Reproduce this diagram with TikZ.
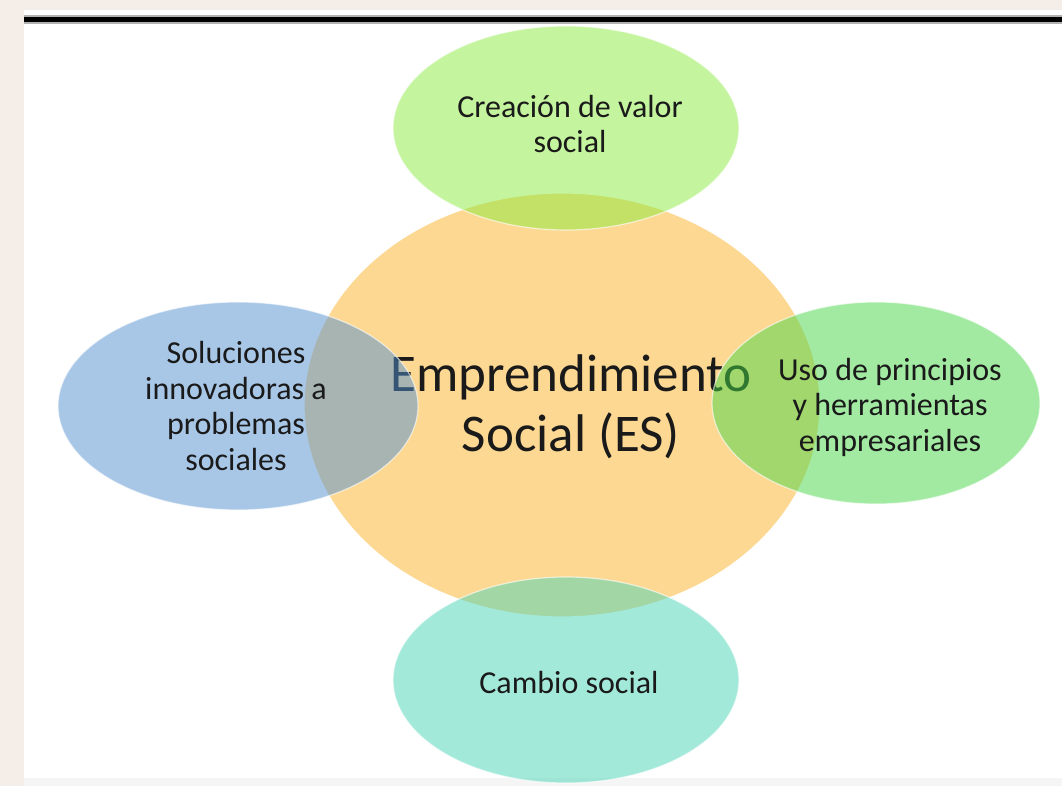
\documentclass[tikz,border=0pt]{standalone}
\usepackage{fontspec}
\setmainfont{Carlito}
\usetikzlibrary{shapes.geometric}
\definecolor{bgbeige}{HTML}{F5EDE8}
\definecolor{orangeES}{HTML}{FCD892}
\definecolor{greenTop}{RGB}{139,235,61}
\definecolor{blueLeft}{RGB}{83,145,209}
\definecolor{greenRight}{RGB}{71,215,71}
\definecolor{tealBottom}{RGB}{73,213,183}
\definecolor{txt}{HTML}{1A1A1A}
\begin{document}
\begin{tikzpicture}[x=1pt,y=-1pt,
  bubble/.style={ellipse, inner sep=0pt, draw=white, line width=1.2pt, fill opacity=0.5, draw opacity=0.6},
  smalltext/.style={align=center, text=txt, font=\fontsize{32}{35.5}\selectfont, inner sep=0pt},
  bigtext/.style={align=center, text=txt, font=\fontsize{53}{60}\selectfont, inner sep=0pt}]
\useasboundingbox (0,0) rectangle (1062,786);
\fill[bgbeige] (0,0) rectangle (1062,786);
\fill[white] (24,10) rectangle (1062,778);
\fill[gray!8] (24,778) rectangle (1062,786);
\fill[gray!60] (24,15.5) rectangle (1062,24);
\fill[black] (24,17) rectangle (1062,22.5);
% central ellipse
\node[ellipse, inner sep=0pt, fill=orangeES, draw=white, line width=1.2pt, minimum width=516pt, minimum height=424pt] (es) at (562,405) {};
\node[bigtext] (estext) at (571,407) {Emprendimiento\\Social (ES)};
% outer ellipses
\node[bubble, fill=greenTop, minimum width=346pt, minimum height=204pt] (top) at (566,128) {};
\node[bubble, fill=blueLeft, minimum width=360pt, minimum height=208pt] (left) at (238,406) {};
\node[bubble, fill=greenRight, minimum width=328pt, minimum height=202pt] (right) at (876,403) {};
\node[bubble, fill=tealBottom, minimum width=346pt, minimum height=206pt] (bottom) at (566,680) {};
% texts
\node[smalltext] (toptext) at (570,124) {Creación de valor\\social};
\node[smalltext] (lefttext) at (236,406) {Soluciones\\innovadoras a\\problemas\\sociales};
\node[smalltext] (righttext) at (890,407) {Uso de principios\\y herramientas\\empresariales};
\node[smalltext] (bottomtext) at (569,683) {Cambio social};
\end{tikzpicture}
\end{document}
